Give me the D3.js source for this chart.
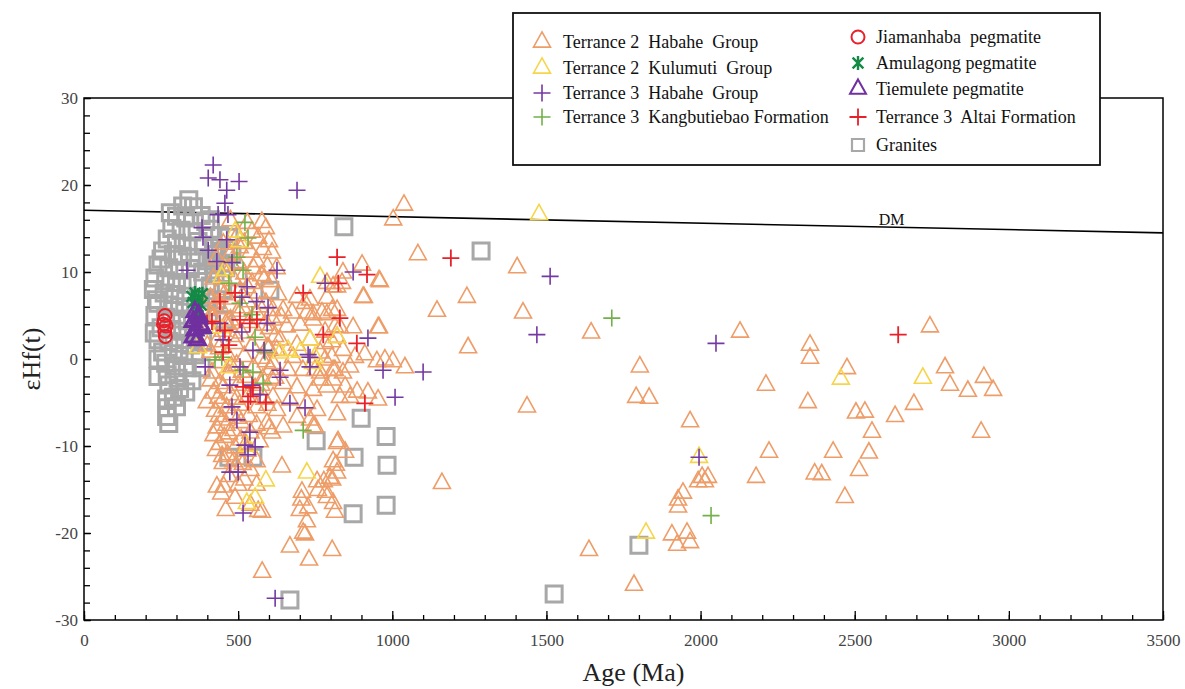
<!DOCTYPE html>
<html>
<head>
<meta charset="utf-8">
<script src="https://cdn.jsdelivr.net/npm/d3@7"></script>
<style>
  body { margin: 0; background: #fff; }
  svg { display: block; }
  text { font-family: "Liberation Serif", "Times New Roman", serif; }
</style>
</head>
<body>
<svg id="chart" width="1185" height="689"></svg>
<script>
// ---- axis ticks ----
const xTickValues = [0, 500, 1000, 1500, 2000, 2500, 3000, 3500];
const yTickValues = [-30, -20, -10, 0, 10, 20, 30];

// ---- depleted mantle evolution line [age, eHf] ----
const dmLine = [[0, 17.1], [3500, 14.5]];

// ---- zircon data [age (Ma), eHf(t)] ----
const t2HabaheGroup = [
  // older, scattered grains
  [1038,17.7],[1003,16.0],[1083,12.0],[1405,10.5],[1424,5.3],[1242,7.1],[1145,5.5],[1645,3.0],[1246,1.3],[1437,-5.5],
  [957,9.0],[908,7.1],[957,3.6],[1041,-1.0],[1002,-0.3],[976,-0.1],[902,10.8],[837,8.7],
  [1803,-0.9],[1791,-4.4],[1833,-4.5],[1966,-7.2],[2005,-13.6],[2024,-13.6],[2014,-14.1],[1992,-14.1],
  [1943,-15.4],[1927,-16.2],[1927,-17.0],[1907,-20.2],[1956,-20.0],[1924,-21.4],[1966,-21.1],[1638,-22.0],
  [1784,-26.0],[1161,-14.3],[2128,3.1],[2212,-3.0],[2222,-10.7],[2180,-13.6],[2355,1.6],[2355,0.1],
  [2348,-5.0],[2430,-10.7],[2370,-13.2],[2393,-13.3],[2468,-15.9],[2475,-1.1],[2514,-12.8],[2504,-6.2],
  [2533,-6.1],[2556,-8.4],[2546,-10.8],[2631,-6.6],[2692,-5.2],[2744,3.7],[2793,-1.0],[2809,-3.0],
  [2867,-3.7],[2919,-2.1],[2949,-3.6],[2910,-8.4],
  // 570-1000 Ma, negative values
  [578,-24.5],[668,-21.6],[730,-23.1],[805,-22.0],[711,-20.0],[723,-18.7],[700,-17.4],[727,-17.1],
  [707,-15.3],[642,-12.4],[759,-15.1],[778,-14.1],[788,-15.9],[808,-16.6],[814,-17.6],[817,-12.2],
  [805,-13.9],[824,-9.5],[847,-10.7],[821,-9.7],[808,-11.8],[821,-13.1],[798,-13.7],[756,-14.1],
  [785,-15.3],[717,-20.2],[705,-16.2],[460,-17.4],[431,-14.7],[453,-14.7],[500,-14.5],[577,-17.6],
  // 600-1000 Ma band
  [960,8.9],[905,7.1],[840,9.9],[808,8.3],[733,6.8],[788,7.0],[743,5.1],[788,5.1],[821,5.6],
  [873,3.6],[954,3.6],[830,3.6],[733,2.2],[804,2.0],[840,1.0],[879,0.2],[911,0.5],[950,-0.3],
  [766,0.7],[804,0.2],[814,-1.3],[840,-1.6],[863,-0.9],[749,-1.3],[766,-2.4],[808,-2.4],[847,-3.2],
  [830,-4.4],[863,-4.4],[886,-3.8],[921,-3.9],[954,-4.7],[821,-6.4],[756,-5.9],[733,-7.0],[749,-7.8],
  [788,8.7],[821,8.3],[691,7.1],[717,6.4],[646,5.6],[675,5.3],[723,5.3],[772,5.3],[805,5.6],
  [613,4.5],[658,3.7],[701,3.9],[743,4.5],[782,3.1],[814,3.7],[636,2.2],[691,1.6],[782,1.8],
  [821,2.5],[594,1.3],[678,0.2],[782,-0.1],[613,-0.5],[662,-1.3],[710,-1.3],[766,-1.6],[808,-1.3],
  [610,-2.4],[646,-2.8],[691,-3.3],[743,-3.6],[788,-3.2],[613,-4.4],[668,-4.7],[723,-5.1],
  [626,-5.9],[691,-6.7],[594,-7.4],[646,-7.8],[743,-7.8],[610,-8.5],
  // 400-640 Ma main population
  [475,15.9],[530,15.6],[577,15.7],[590,15.0],[545,14.6],[498,14.2],[565,13.9],[600,13.5],[452,13.2],
  [520,13.3],[580,12.6],[610,12.2],[475,12.0],[540,12.3],[430,11.5],[500,11.0],[560,11.2],[595,10.6],
  [625,10.4],[455,10.1],[520,9.8],[575,9.6],[420,9.2],[488,9.0],[545,8.7],[608,8.9],[440,8.0],
  [505,7.8],[565,7.6],[630,7.4],[410,7.0],[470,6.9],[530,6.6],[590,6.4],[445,5.8],[500,5.5],
  [560,5.2],[612,5.6],[420,4.8],[475,4.5],[535,4.2],[585,3.9],[405,3.6],[450,3.2],[510,3.0],
  [565,2.8],[620,2.6],[430,2.0],[490,1.8],[545,1.5],[600,1.2],[410,0.8],[465,0.5],[520,0.3],
  [575,0.1],[440,-0.4],[495,-0.7],[550,-1.0],[605,-1.2],[415,-1.6],[470,-1.8],[525,-2.1],[580,-2.3],
  [440,-2.8],[500,-3.0],[555,-3.4],[420,-3.9],[475,-4.1],[530,-4.4],[585,-4.6],[445,-5.0],[505,-5.3],
  [560,-5.6],[425,-6.0],[480,-6.3],[535,-6.6],[450,-7.0],[510,-7.3],[560,-7.6],[430,-7.9],[485,-8.2],
  [540,-8.5],[455,-9.0],[510,-9.3],[440,-9.8],[490,-10.2],[530,-10.6],[465,-11.0],[505,-11.5],
  [450,-12.0],[495,-12.4],[540,-12.8],[470,-13.5],[520,-13.9],[560,-14.5],[445,-15.5],[490,-16.0],
  [540,-16.8],[565,-17.5],
  [425,6.2],[460,4.0],[438,1.2],[478,-0.9],[452,-3.3],[463,-5.6],[437,-6.6],[470,-8.6],[500,-6.8],
  [420,-8.8],[512,-1.5],[490,2.6],[515,5.9],[455,7.4],[480,10.8],[505,12.8],[470,3.7],[435,-4.5],
  [495,-4.6],[448,-11.2],[525,-9.8],[428,-10.5],[410,-2.5],[400,1.5],[398,-5.0],[412,5.0],[462,-7.6],
  [485,-11.8],[515,-12.1],[530,8.2],[550,10.4],[570,6.0],[590,-0.3],[575,-3.0],[595,-5.3],[600,-8.0],
  [570,-9.5],[560,-11.8],[600,3.5],[625,1.0],[640,4.8],[620,-2.2],[585,9.2]
];

const t2KulumutiGroup = [
  [1476,16.6],[2721,-2.2],[2455,-2.3],[1823,-20.0],[1995,-11.3],[723,-13.1],[555,-16.0],[528,-16.6],
  [457,10.2],[490,14.6],[441,3.6],[370,1.3],[636,0.7],[662,1.0],[701,0.8],[766,9.4],[733,2.2],
  [749,0.2],[743,-0.5],[447,9.4],[821,2.5],[530,-10.0],[505,13.5],[470,-1.0],[590,-14.0]
];

const t3HabaheGroup = [
  [419,22.3],[403,20.8],[441,20.6],[503,20.4],[463,19.4],[691,19.4],[457,17.9],[435,16.6],[467,16.6],
  [383,15.1],[386,14.0],[463,13.7],[403,12.5],[431,11.2],[480,11.1],[334,10.2],[626,10.2],[529,8.3],
  [512,7.1],[597,5.9],[441,4.1],[594,4.1],[512,3.1],[451,2.2],[548,1.0],[584,1.0],[393,-0.9],[506,-0.9],
  [636,-1.3],[727,0.5],[733,0.2],[733,-0.9],[970,-1.3],[1009,-4.4],[1100,-1.5],[873,10.0],[1469,2.8],
  [1512,9.5],[2050,1.8],[1995,-11.3],[782,8.7],[921,2.4],[668,-5.1],[717,-5.6],[620,-27.5],[516,-17.7],
  [473,-13.0],[500,-13.0],[496,-7.0],[538,-8.4],[555,-10.1],[532,-11.0],[522,-9.9],[571,-4.1],
  [473,-3.0],[636,-2.1],[545,-3.0],[480,-5.5],[560,6.6]
];

const t3Kangbutiebao = [
  [1712,4.7],[2034,-18.0],[711,-8.2],[522,15.7],[532,13.9],[496,11.7],[516,10.2],[506,6.4],[545,5.1],
  [425,-0.1],[447,0.2],[587,0.8],[516,-1.3],[548,-1.5],[581,-2.8],[470,8.7],[555,2.5]
];

const t3Altai = [
  [821,11.7],[1190,11.6],[918,9.7],[825,8.7],[711,7.6],[830,4.7],[776,2.8],[885,1.8],[911,-5.1],
  [2641,2.8],[490,7.6],[441,6.6],[415,4.3],[506,4.5],[538,4.1],[561,4.5],[457,3.3],[451,0.8],
  [399,4.1],[516,-3.2],[548,-3.3],[532,-4.9],[540,-4.3],[470,1.6],[590,-5.0]
];

const jiamanhaba = [[263,5.0],[260,4.4],[266,3.8],[262,3.2],[264,2.6],[258,4.0]];

const amulagong = [[360,7.6],[372,7.0],[354,6.5],[380,6.2],[366,5.6],[350,7.2],[384,7.5],[370,5.0]];

const tiemulete = [[360,5.4],[372,4.7],[354,4.3],[378,3.9],[360,3.3],[354,2.5],[368,2.2],[384,3.6],[372,5.0]];

const granites = [
  [340,18.3],[320,17.6],[355,17.5],[300,16.4],[330,16.2],[380,16.5],[395,15.8],[285,15.0],[315,14.8],
  [350,14.6],[410,14.9],[440,14.2],[270,13.8],[300,13.3],[335,13.0],[370,13.5],[420,12.8],[460,12.6],
  [255,12.4],[290,12.0],[320,11.8],[360,11.6],[400,11.3],[445,11.0],[240,10.8],[275,10.5],[310,10.2],
  [345,10.4],[385,10.0],[425,9.8],[230,9.3],[265,9.0],[300,8.8],[335,8.6],[370,8.9],[410,8.4],
  [225,8.0],[260,7.6],[295,7.4],[330,7.2],[395,7.0],[240,6.4],[275,6.2],[310,6.0],[345,5.8],[380,5.5],
  [230,5.0],[265,4.8],[300,4.6],[335,4.4],[250,3.6],[285,3.4],[320,3.2],[355,3.0],[240,2.2],[275,2.0],
  [310,1.8],[345,1.6],[255,0.8],[290,0.6],[325,0.4],[265,-0.5],[300,-0.8],[335,-1.0],[270,-1.8],
  [305,-2.2],[275,-3.0],[310,-3.4],[268,-4.6],[290,-4.4],[270,-5.6],[268,-6.6],[275,-7.4],
  [390,13.0],[430,12.0],[460,10.5],[420,10.8],[450,8.0],[400,6.0],[430,6.8],[385,2.0],[360,0.5],
  [380,-1.0],[350,-2.5],[330,-3.8],[240,0.0],[228,3.0],[235,6.8],[250,11.5],[280,16.8],[300,-5.5],
  [240,-2.0],[410,16.0],[470,14.0],[480,12.0],
  [603,7.9],[843,15.2],[1288,12.4],[753,-9.4],[876,-11.3],[873,-17.8],[980,-16.8],[983,-12.2],
  [980,-8.9],[899,-6.8],[668,-27.7],[1525,-27.0],[1800,-21.4],[470,-11.3],[548,-11.3],[500,9.5],[455,4.5]
];

// ---- layout ----
const svg = d3.select("#chart");
const margin = { left: 84, right: 1163, top: 98, bottom: 620 };
const x = d3.scaleLinear().domain([0, 3500]).range([margin.left, margin.right]);
const y = d3.scaleLinear().domain([-30, 30]).range([margin.bottom, margin.top]);

// ---- marker shapes ----
const triPath = s => `M0,${-s * 0.6}L${s / 2},${s * 0.3}L${-s / 2},${s * 0.3}Z`;
const crossPath = s => `M${-s / 2},0H${s / 2}M0,${-s / 2}V${s / 2}`;
const starPath = s => { const a = s / 2.6, b = s / 2; return `M${-a},${-a}L${a},${a}M${a},${-a}L${-a},${a}M0,${-b}V${b}`; };
const squarePath = s => `M${-s / 2},${-s / 2}H${s / 2}V${s / 2}H${-s / 2}Z`;
const circlePath = r => `M${-r},0A${r},${r} 0 1,0 ${r},0A${r},${r} 0 1,0 ${-r},0Z`;

const series = [
  { name: "Granites", data: granites, path: squarePath(16), stroke: "#a8a8a8", width: 3 },
  { name: "Terrance 2  Habahe  Group", data: t2HabaheGroup, path: triPath(17), stroke: "#ee9d68", width: 1.6 },
  { name: "Terrance 2  Kulumuti  Group", data: t2KulumutiGroup, path: triPath(17), stroke: "#f6d54a", width: 1.6 },
  { name: "Terrance 3  Kangbutiebao Formation", data: t3Kangbutiebao, path: crossPath(17), stroke: "#72b04a", width: 1.6 },
  { name: "Terrance 3  Habahe  Group", data: t3HabaheGroup, path: crossPath(17), stroke: "#7438a3", width: 1.6 },
  { name: "Terrance 3  Altai Formation", data: t3Altai, path: crossPath(17), stroke: "#e8202a", width: 1.8 },
  { name: "Jiamanhaba  pegmatite", data: jiamanhaba, path: circlePath(6.5), stroke: "#e8202a", width: 2 },
  { name: "Amulagong pegmatite", data: amulagong, path: starPath(14), stroke: "#138a45", width: 2.4 },
  { name: "Tiemulete pegmatite", data: tiemulete, path: triPath(16), stroke: "#7030a0", width: 3 }
];

// ---- frame ----
svg.append("rect")
  .attr("x", margin.left).attr("y", margin.top)
  .attr("width", margin.right - margin.left).attr("height", margin.bottom - margin.top)
  .attr("fill", "none").attr("stroke", "#000").attr("stroke-width", 1.5);

// ---- axes ----
const styleAxis = g => {
  g.select(".domain").remove();
  g.selectAll(".tick line").attr("stroke", "#000").attr("stroke-width", 1.3);
  g.selectAll(".tick text").attr("fill", "#444").style("font-size", "17px")
    .style("font-family", '"Liberation Serif", serif');
};

svg.append("g").attr("transform", `translate(0,${margin.bottom})`)
  .call(d3.axisBottom(x).tickValues(d3.range(0, 3501, 100)).tickSize(-5).tickFormat(""))
  .call(styleAxis);
svg.append("g").attr("transform", `translate(0,${margin.bottom})`)
  .call(d3.axisBottom(x).tickValues(xTickValues).tickSize(-9).tickPadding(14).tickFormat(d3.format("d")))
  .call(styleAxis);

svg.append("g").attr("transform", `translate(${margin.left},0)`)
  .call(d3.axisLeft(y).tickValues(d3.range(-30, 31, 2)).tickSize(-6).tickFormat(""))
  .call(styleAxis);
svg.append("g").attr("transform", `translate(${margin.left},0)`)
  .call(d3.axisLeft(y).tickValues(yTickValues).tickSize(-7).tickPadding(6).tickFormat(d => d < 0 ? "-" + Math.abs(d) : d))
  .call(styleAxis);

// axis titles
svg.append("text")
  .attr("x", (margin.left + margin.right) / 2 + 10).attr("y", 681)
  .attr("text-anchor", "middle").style("font-size", "26px").attr("fill", "#222")
  .text("Age (Ma)");
svg.append("text")
  .attr("transform", `translate(40,${y(0)}) rotate(-90)`)
  .attr("text-anchor", "middle").style("font-size", "26px").attr("fill", "#222")
  .text("εHf(t)");

// ---- DM line ----
svg.append("path")
  .datum(dmLine)
  .attr("d", d3.line().x(d => x(d[0])).y(d => y(d[1])))
  .attr("fill", "none").attr("stroke", "#000").attr("stroke-width", 1.6);
svg.append("text")
  .attr("x", x(2620)).attr("y", y(15.2) - 2)
  .attr("text-anchor", "middle").style("font-size", "16px").attr("fill", "#111")
  .text("DM");

// ---- points ----
const plot = svg.append("g");
series.forEach(s => {
  plot.append("g").selectAll("path")
    .data(s.data)
    .join("path")
    .attr("transform", d => `translate(${x(d[0])},${y(d[1])})`)
    .attr("d", s.path)
    .attr("fill", "none")
    .attr("stroke", s.stroke)
    .attr("stroke-width", s.width);
});

// ---- legend ----
const legend = svg.append("g");
legend.append("rect")
  .attr("x", 513).attr("y", 13).attr("width", 587).attr("height", 152)
  .attr("fill", "#fff").attr("stroke", "#111").attr("stroke-width", 1.8);

const byName = Object.fromEntries(series.map(s => [s.name, s]));
const legendLeft = [
  "Terrance 2  Habahe  Group", "Terrance 2  Kulumuti  Group",
  "Terrance 3  Habahe  Group", "Terrance 3  Kangbutiebao Formation"
];
const legendRight = [
  "Jiamanhaba  pegmatite", "Amulagong pegmatite", "Tiemulete pegmatite",
  "Terrance 3  Altai Formation", "Granites"
];
const leftRows = [42, 68, 93, 117];
const rightRows = [37, 63, 89, 117, 145];

function legendItem(name, mx, tx, cy) {
  const s = byName[name];
  let path = s.path, w = s.width;
  if (name === "Granites") { path = squarePath(12); w = 2.2; }
  if (name === "Tiemulete pegmatite") { w = 2; }
  legend.append("path")
    .attr("transform", `translate(${mx},${cy})`)
    .attr("d", path).attr("fill", "none")
    .attr("stroke", s.stroke).attr("stroke-width", w);
  legend.append("text")
    .attr("x", tx).attr("y", cy + 6)
    .attr("xml:space", "preserve").style("white-space", "pre")
    .style("font-size", "18px").attr("fill", "#111")
    .text(name);
}
legendLeft.forEach((n, i) => legendItem(n, 542, 563, leftRows[i]));
legendRight.forEach((n, i) => legendItem(n, 858, 876, rightRows[i]));
</script>
</body>
</html>
